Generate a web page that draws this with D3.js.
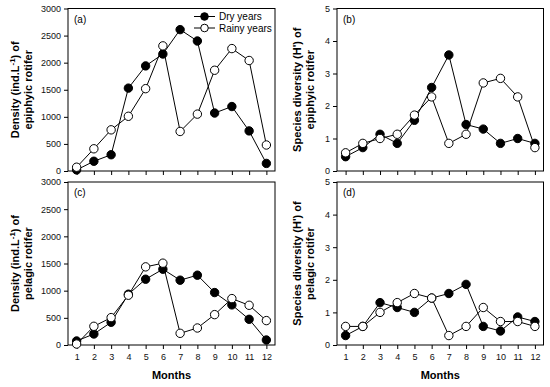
<!DOCTYPE html>
<html>
<head>
<meta charset="utf-8">
<script src="https://cdn.jsdelivr.net/npm/d3@7"></script>
<style>
  body { margin: 0; background: #fff; }
  svg text { font-family: Arial, "Liberation Sans", sans-serif; }
</style>
</head>
<body>
<div id="vis"></div>
<script>
/*
Data
*/

const months = [1, 2, 3, 4, 5, 6, 7, 8, 9, 10, 11, 12];

const epiDensityDry   = [20, 180, 300, 1530, 1940, 2160, 2610, 2400, 1070, 1190, 740, 140];
const epiDensityRainy = [70, 410, 760, 1010, 1520, 2310, 730, 1050, 1860, 2260, 2040, 480];

const epiDiversityDry   = [0.44, 0.72, 1.13, 0.85, 1.56, 2.57, 3.57, 1.43, 1.29, 0.85, 1.0, 0.85];
const epiDiversityRainy = [0.56, 0.85, 1.0, 1.13, 1.72, 2.28, 0.85, 1.13, 2.71, 2.85, 2.28, 0.72];

const pelDensityDry   = [74, 203, 418, 935, 1211, 1395, 1193, 1285, 965, 738, 473, 92];
const pelDensityRainy = [18, 344, 504, 916, 1438, 1506, 215, 313, 559, 854, 731, 449];

const pelDiversityDry   = [0.29, 0.57, 1.3, 1.15, 1.0, 1.44, 1.58, 1.86, 0.57, 0.43, 0.86, 0.72];
const pelDiversityRainy = [0.57, 0.57, 1.0, 1.3, 1.58, 1.44, 0.29, 0.57, 1.15, 0.72, 0.72, 0.57];

const densityTicks = [0, 500, 1000, 1500, 2000, 2500, 3000];
const diversityTicks = [0, 1, 2, 3, 4, 5];

const legendLabels = ["Dry years", "Rainy years"];

/*
Size constants
*/

const WIDTH = 550;
const HEIGHT = 387;

const svg = d3.select("#vis")
              .append("svg")
              .attr("width", WIDTH)
              .attr("height", HEIGHT);

// each panel: frame position, y domain, data and titles
const panels = [
  {letter: "(a)", x0: 68, x1: 275, y0: 8.5, y1: 171, ymax: 3000, ticks: densityTicks,
   dry: epiDensityDry, rainy: epiDensityRainy,
   title: ["Density (ind.L|-1|) of", "epiphyic rotifer"], tx: 19, legend: true, months: false},
  {letter: "(b)", x0: 337, x1: 543.5, y0: 8.5, y1: 171, ymax: 5, ticks: diversityTicks,
   dry: epiDiversityDry, rainy: epiDiversityRainy,
   title: ["Species diversity (H') of", "epiphyic rotifer"], tx: 301, legend: false, months: false},
  {letter: "(c)", x0: 68, x1: 275, y0: 182, y1: 345, ymax: 3000, ticks: densityTicks,
   dry: pelDensityDry, rainy: pelDensityRainy,
   title: ["Density (ind.L|-1|) of", "pelagic rotifer"], tx: 19, legend: false, months: true},
  {letter: "(d)", x0: 337, x1: 543.5, y0: 182, y1: 345, ymax: 5, ticks: diversityTicks,
   dry: pelDiversityDry, rainy: pelDiversityRainy,
   title: ["Species diversity (H') of", "pelagic rotifer"], tx: 301, legend: false, months: true}
];

panels.forEach(drawPanel);

function drawPanel(p) {
  const x = d3.scaleLinear().domain([0.5, 12.5]).range([p.x0, p.x1]);
  const y = d3.scaleLinear().domain([0, p.ymax]).range([p.y1, p.y0]);

  const g = svg.append("g");

  // frame
  g.append("rect")
   .attr("x", p.x0).attr("y", p.y0)
   .attr("width", p.x1 - p.x0).attr("height", p.y1 - p.y0)
   .attr("fill", "none").attr("stroke", "#000").attr("stroke-width", 1);

  // y axis
  const yAxis = g.append("g")
                 .attr("transform", `translate(${p.x0},0)`)
                 .call(d3.axisLeft(y).tickValues(p.ticks).tickSize(4).tickPadding(3)
                         .tickFormat(d3.format("d")));
  yAxis.select(".domain").remove();
  yAxis.selectAll("text").attr("font-size", 9).attr("font-family", "Arial, 'Liberation Sans', sans-serif").attr("fill", "#111");

  // x axis
  const xAxis = g.append("g")
                 .attr("transform", `translate(0,${p.y1})`)
                 .call(d3.axisBottom(x).tickValues(months).tickSize(4).tickPadding(5)
                         .tickFormat(p.months ? d3.format("d") : () => ""));
  xAxis.select(".domain").remove();
  xAxis.selectAll("text").attr("font-size", 9).attr("font-family", "Arial, 'Liberation Sans', sans-serif").attr("fill", "#111");

  if (p.months) {
    g.append("text")
     .attr("x", (p.x0 + p.x1) / 2).attr("y", 379)
     .attr("text-anchor", "middle")
     .attr("font-size", 11).attr("font-weight", "bold")
     .text("Months");
  }

  // panel letter
  g.append("text")
   .attr("x", p.x0 + 6).attr("y", p.y0 + 14)
   .attr("font-size", 10)
   .text(p.letter);

  // y title, two rotated lines
  const cy = (p.y0 + p.y1) / 2;
  p.title.forEach((line, i) => {
    const t = g.append("text")
               .attr("transform", `translate(${p.tx + i * 13},${cy}) rotate(-90)`)
               .attr("text-anchor", "middle")
               .attr("font-size", 11).attr("font-weight", "bold");
    const parts = line.split("|");
    t.append("tspan").text(parts[0]);
    if (parts.length > 1) {
      t.append("tspan").attr("dy", -4).attr("font-size", 8).text(parts[1]);
      t.append("tspan").attr("dy", 4).text(parts[2]);
    }
  });

  const line = d3.line().x((d, i) => x(months[i])).y(d => y(d));

  [p.dry, p.rainy].forEach(vals => {
    g.append("path")
     .datum(vals)
     .attr("d", line)
     .attr("fill", "none").attr("stroke", "#000").attr("stroke-width", 1);
  });
  // markers after lines; rainy drawn on top where they overlap
  [[p.dry, "#000"], [p.rainy, "#fff"]].forEach(([vals, fill]) => {
    g.selectAll(null)
     .data(vals)
     .enter()
     .append("circle")
     .attr("cx", (d, i) => x(months[i]))
     .attr("cy", d => y(d))
     .attr("r", 4.2)
     .attr("fill", fill)
     .attr("stroke", "#000").attr("stroke-width", 1);
  });

  if (p.legend) {
    const lg = g.append("g");
    legendLabels.forEach((lab, i) => {
      const ly = p.y0 + 8 + i * 11.5;
      lg.append("line")
        .attr("x1", 194).attr("x2", 215).attr("y1", ly).attr("y2", ly)
        .attr("stroke", "#000");
      lg.append("circle")
        .attr("cx", 204.5).attr("cy", ly).attr("r", 3.8)
        .attr("fill", i === 0 ? "#000" : "#fff").attr("stroke", "#000");
      lg.append("text")
        .attr("x", 219).attr("y", ly + 3.5)
        .attr("font-size", 10)
        .text(lab);
    });
  }
}
</script>
</body>
</html>
